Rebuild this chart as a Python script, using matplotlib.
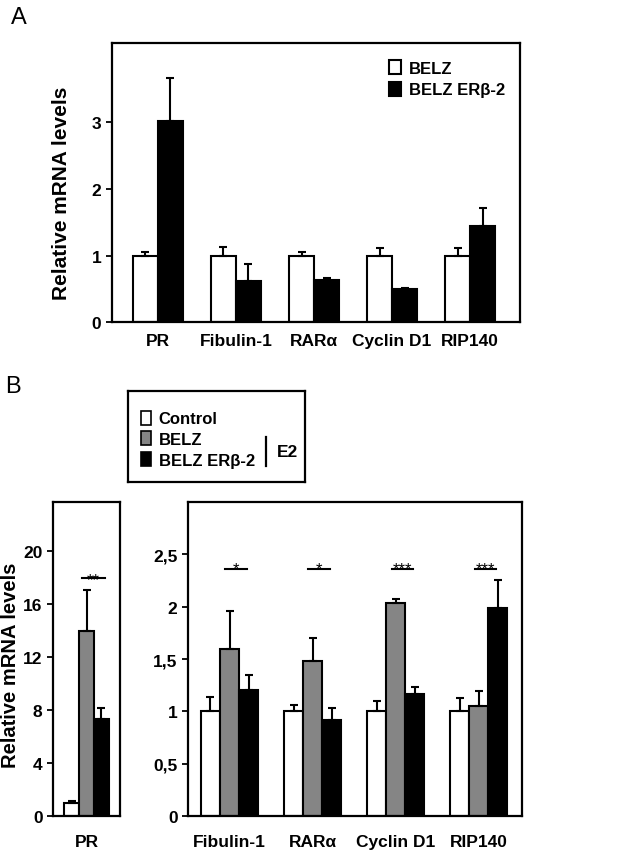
import numpy as np
import matplotlib.pyplot as plt
from matplotlib.patches import Patch
from matplotlib.ticker import FuncFormatter

plt.rcParams['font.family'] = ['Liberation Sans', 'DejaVu Sans']
plt.rcParams['font.weight'] = 'bold'
plt.rcParams['axes.labelweight'] = 'bold'

# panel A
genes_a = ['PR', 'Fibulin-1', 'RARα', 'Cyclin D1', 'RIP140']
belz = [1.0, 1.0, 1.0, 1.0, 1.0]
belz_err = [0.05, 0.13, 0.05, 0.11, 0.11]
erb2 = [3.02, 0.62, 0.64, 0.50, 1.44]
erb2_err = [0.64, 0.25, 0.02, 0.02, 0.28]

# panel B
genes_pr = ['PR']
ctrl_pr = [1.0]
ctrl_pr_err = [0.1]
belz_pr = [14.0]
belz_pr_err = [3.05]
erb2_pr = [7.3]
erb2_pr_err = [0.85]
sig_pr = ['**']
sig_pr_y = 18.0

genes_b = ['Fibulin-1', 'RARα', 'Cyclin D1', 'RIP140']
ctrl_b = [1.0, 1.0, 1.0, 1.0]
ctrl_b_err = [0.14, 0.06, 0.10, 0.13]
belz_b = [1.60, 1.48, 2.04, 1.05]
belz_b_err = [0.36, 0.22, 0.03, 0.14]
erb2_b = [1.20, 0.92, 1.17, 1.99]
erb2_b_err = [0.15, 0.11, 0.06, 0.27]
sig_b = ['*', '*', '***', '***']
sig_b_y = 2.36

GRAY = '#858585'
ekw = dict(ecolor='black', elinewidth=1.5, capsize=2.6, capthick=1.5)


def style_box(ax, pad=8):
    for s in ax.spines.values():
        s.set_linewidth(1.6)
    ax.tick_params(axis='y', length=4, width=1.3, labelsize=12.5)
    ax.tick_params(axis='x', length=0, labelsize=12.5, pad=pad)


def up_err(err):
    return [np.zeros(len(err)), err]


fig = plt.figure(figsize=(6.32, 8.53), dpi=100)

# ---- A ----
ax = fig.add_axes([0.177, 0.621, 0.646, 0.328])
x = np.arange(len(genes_a))
w = 0.32
ax.bar(x - w / 2, belz, w, yerr=up_err(belz_err), color='white', edgecolor='black',
       linewidth=1.5, error_kw=ekw, label='BELZ')
ax.bar(x + w / 2, erb2, w, yerr=up_err(erb2_err), color='black', edgecolor='black',
       linewidth=1.5, error_kw=ekw, label='BELZ ERβ-2')
ax.set_xlim(-0.59, 4.64)
ax.set_ylim(0, 4.2)
ax.set_yticks([0, 1, 2, 3])
ax.set_xticks(x)
ax.set_xticklabels(genes_a)
ax.set_ylabel('Relative mRNA levels', fontsize=15)
ax.yaxis.set_label_coords(-0.1, 0.464)
style_box(ax)
ax.legend(loc='upper right', frameon=False, fontsize=12, handlelength=0.7,
          handleheight=0.9, handletextpad=0.5, labelspacing=0.35,
          bbox_to_anchor=(1.0, 0.99))
fig.text(0.018, 0.979, 'A', fontsize=17, fontweight='normal', va='center')

# ---- B : PR ----
ax1 = fig.add_axes([0.0839, 0.0422, 0.106, 0.368])
xp = np.arange(len(genes_pr))
wp = 0.22
ax1.bar(xp - wp, ctrl_pr, wp, yerr=up_err(ctrl_pr_err), color='white', edgecolor='black',
        linewidth=1.5, error_kw=ekw)
ax1.bar(xp, belz_pr, wp, yerr=up_err(belz_pr_err), color=GRAY, edgecolor='black',
        linewidth=1.5, error_kw=ekw)
ax1.bar(xp + wp, erb2_pr, wp, yerr=up_err(erb2_pr_err), color='black', edgecolor='black',
        linewidth=1.5, error_kw=ekw)
for i, s in enumerate(sig_pr):
    ax1.plot([xp[i] - 0.07, xp[i] + wp + 0.05], [sig_pr_y, sig_pr_y], color='black', lw=1.5)
    ax1.text(xp[i] + wp / 2 - 0.01, sig_pr_y - 0.5, s, ha='center', va='baseline',
             fontsize=12, fontweight='normal')
ax1.set_xlim(-0.5, 0.5)
ax1.set_ylim(0, 23.7)
ax1.set_yticks([0, 4, 8, 12, 16, 20])
ax1.set_xticks(xp)
ax1.set_xticklabels(genes_pr)
ax1.set_ylabel('Relative mRNA levels', fontsize=14.5)
ax1.yaxis.set_label_coords(-0.50, 0.484)
style_box(ax1, pad=13)

# ---- B : others ----
ax2 = fig.add_axes([0.2975, 0.0422, 0.5285, 0.368])
xb = np.arange(len(genes_b))
wb = 0.23
ax2.bar(xb - wb, ctrl_b, wb, yerr=up_err(ctrl_b_err), color='white', edgecolor='black',
        linewidth=1.5, error_kw=ekw, label='Control')
ax2.bar(xb, belz_b, wb, yerr=up_err(belz_b_err), color=GRAY, edgecolor='black',
        linewidth=1.5, error_kw=ekw, label='BELZ')
ax2.bar(xb + wb, erb2_b, wb, yerr=up_err(erb2_b_err), color='black', edgecolor='black',
        linewidth=1.5, error_kw=ekw, label='BELZ ERβ-2')
for i, s in enumerate(sig_b):
    ax2.plot([xb[i] - 0.05, xb[i] + wb - 0.02], [sig_b_y, sig_b_y], color='black', lw=1.5)
    ax2.text(xb[i] + wb / 2 - 0.035, sig_b_y - 0.04, s, ha='center', va='baseline',
             fontsize=12, fontweight='normal')
ax2.set_xlim(-0.5, 3.52)
ax2.set_ylim(0, 3.0)
ax2.set_yticks([0, 0.5, 1, 1.5, 2, 2.5])
ax2.yaxis.set_major_formatter(FuncFormatter(lambda v, p: ('%g' % v).replace('.', ',')))
ax2.set_xticks(xb)
ax2.set_xticklabels(genes_b)
style_box(ax2, pad=13)
fig.text(0.008, 0.546, 'B', fontsize=17, fontweight='normal', va='center')

# legend box for B
axl = fig.add_axes([128 / 632, 1 - 483 / 853, 177 / 632, 91 / 853])
axl.set_xticks([])
axl.set_yticks([])
for s in axl.spines.values():
    s.set_linewidth(1.6)
handles = [Patch(facecolor=c, edgecolor='black', linewidth=1.2) for c in ['white', GRAY, 'black']]
axl.legend(handles, ['Control', 'BELZ', 'BELZ ERβ-2'], loc='center left',
           bbox_to_anchor=(0.0, 0.47), frameon=False, fontsize=12, handlelength=0.6,
           handleheight=0.9, handletextpad=0.45, labelspacing=0.3, borderaxespad=0.4)
axl.plot([0.78, 0.78], [0.18, 0.50], color='black', lw=1.6)
axl.text(0.84, 0.34, 'E2', fontsize=12.5, va='center', ha='left')
axl.set_xlim(0, 1)
axl.set_ylim(0, 1)

fig.savefig('out.png', dpi=100)
